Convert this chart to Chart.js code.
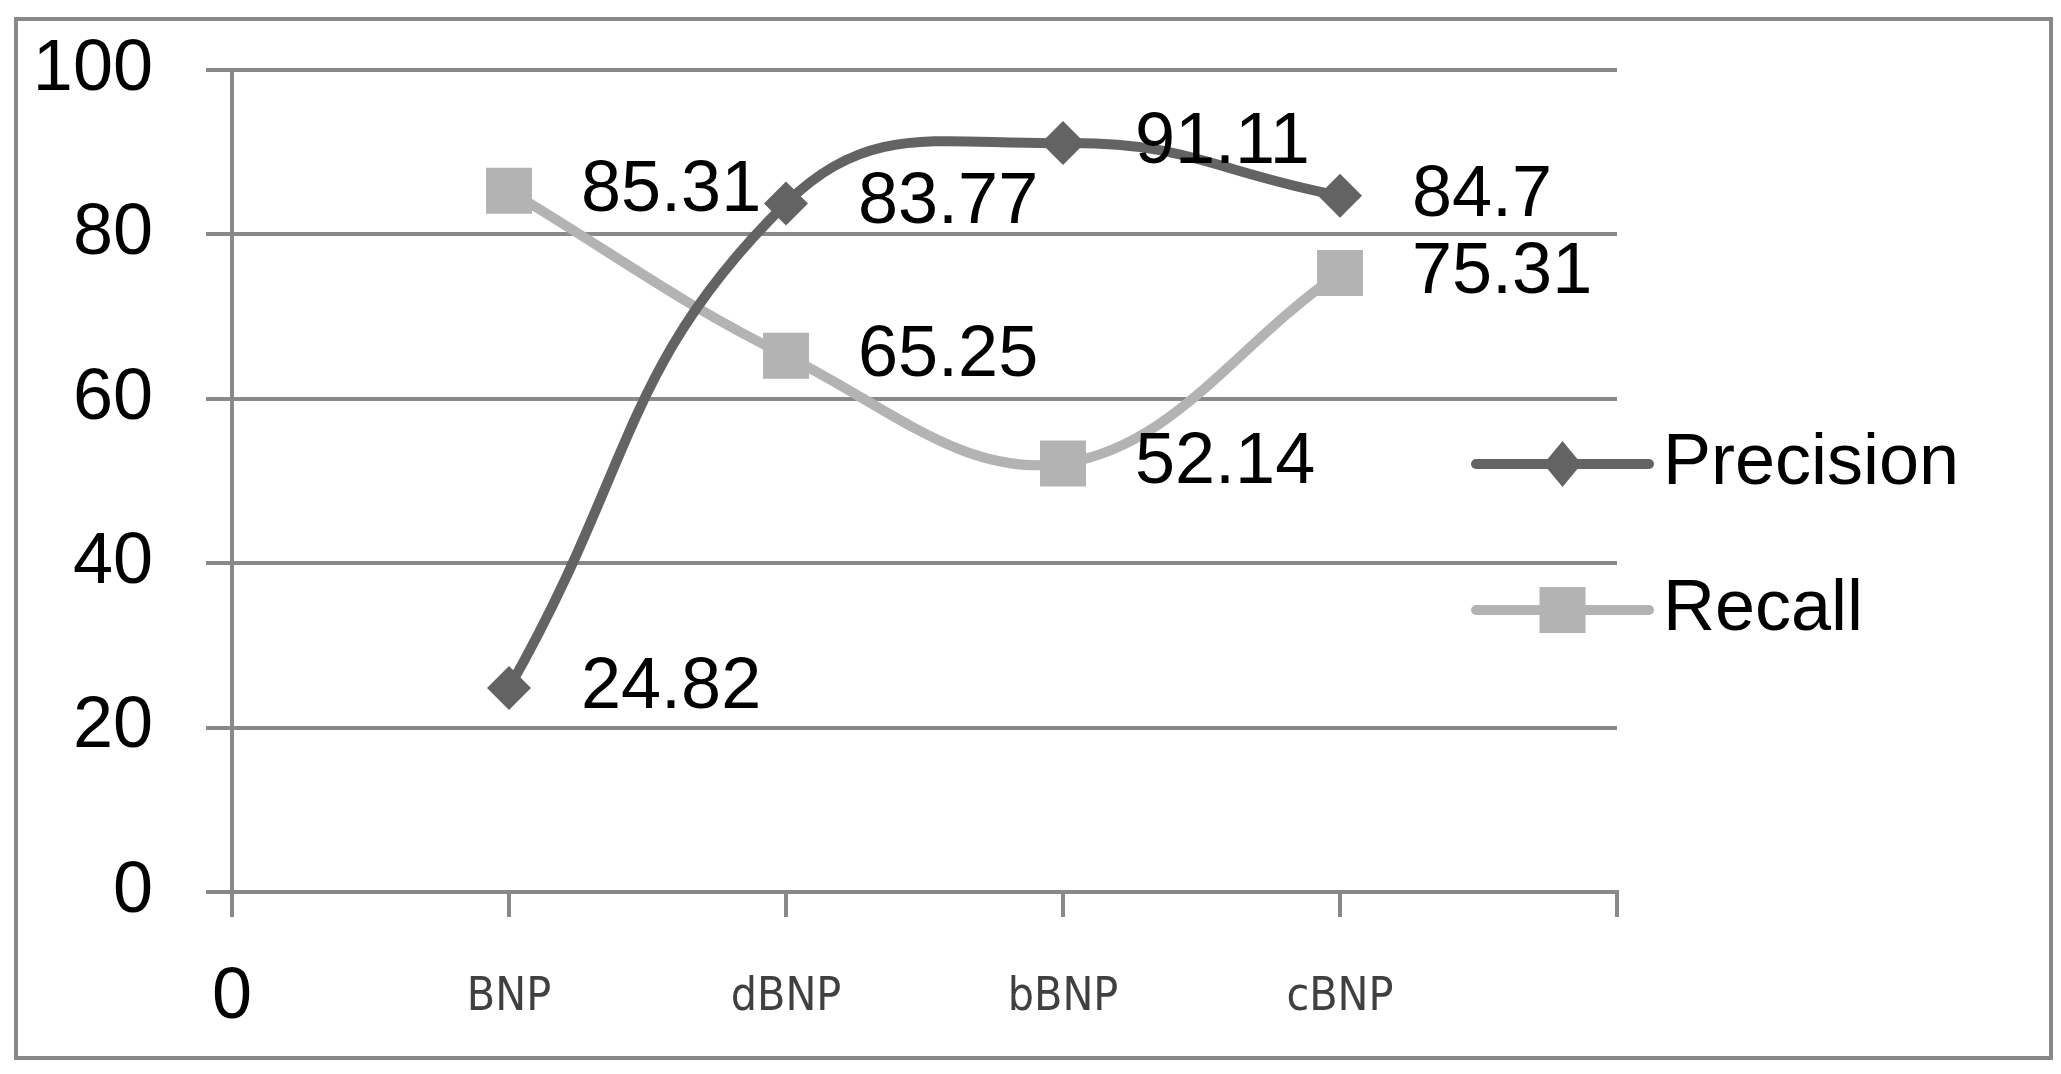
<!DOCTYPE html>
<html>
<head>
<meta charset="utf-8">
<title>Precision and Recall</title>
<script src="https://cdn.jsdelivr.net/npm/chart.js@4.4.1/dist/chart.umd.min.js"></script>
<style>
  html, body { margin: 0; padding: 0; background: #fff; }
</style>
</head>
<body>
<canvas id="chart" width="2061" height="1074"></canvas>
<script>
// Data
const categories = ['0', 'BNP', 'dBNP', 'bBNP', 'cBNP', ''];
const precision = [null, 24.82, 83.77, 91.11, 84.7, null];
const recall = [null, 85.31, 65.25, 52.14, 75.31, null];
const yTicks = [0, 20, 40, 60, 80, 100];

const FONT = "'Liberation Sans', Arial, sans-serif";
const NARROW = "'Liberation Sans Narrow', 'DejaVu Sans Condensed', sans-serif";
const GRID = '#898989';
const DARK = '#636363';
const LIGHT = '#b3b3b3';

// White page + grey frame round the whole chart
const framePlugin = {
  id: 'frame',
  beforeDraw(chart) {
    const ctx = chart.ctx;
    ctx.save();
    ctx.fillStyle = '#fff';
    ctx.fillRect(0, 0, chart.width, chart.height);
    ctx.strokeStyle = GRID;
    ctx.lineWidth = 4;
    ctx.strokeRect(16, 19, chart.width - 26, chart.height - 35);
    ctx.restore();
  }
};

// Value labels to the right of each point
const valueLabels = {
  id: 'valueLabels',
  afterDatasetsDraw(chart) {
    const ctx = chart.ctx;
    ctx.save();
    ctx.font = '72px ' + FONT;
    ctx.fillStyle = '#000';
    ctx.textAlign = 'left';
    ctx.textBaseline = 'middle';
    chart.data.datasets.forEach((ds, i) => {
      chart.getDatasetMeta(i).data.forEach((pt, j) => {
        if (ds.data[j] == null) return;
        ctx.fillText(String(ds.data[j]), pt.x + 72, pt.y);
      });
    });
    ctx.restore();
  }
};

// Legend sits over the right end of the plot, as in the original
const sideLegend = {
  id: 'sideLegend',
  afterDraw(chart) {
    const ctx = chart.ctx;
    const x0 = chart.width - 585, x1 = x0 + 173, mid = (x0 + x1) / 2;
    const cy = chart.height / 2;
    ctx.save();
    chart.data.datasets.forEach((ds, i) => {
      const y = cy + (i === 0 ? -73 : 73);
      ctx.strokeStyle = ds.borderColor;
      ctx.lineWidth = 10;
      ctx.lineCap = 'round';
      ctx.beginPath();
      ctx.moveTo(x0, y);
      ctx.lineTo(x1, y);
      ctx.stroke();
      ctx.fillStyle = ds.pointBackgroundColor;
      ctx.beginPath();
      if (ds.pointStyle === 'rectRot') {
        ctx.moveTo(mid - 19, y);
        ctx.lineTo(mid, y - 23);
        ctx.lineTo(mid + 19, y);
        ctx.lineTo(mid, y + 23);
        ctx.closePath();
      } else {
        ctx.rect(mid - 23, y - 23, 46, 46);
      }
      ctx.fill();
      ctx.font = '72px ' + FONT;
      ctx.fillStyle = '#000';
      ctx.textAlign = 'left';
      ctx.textBaseline = 'middle';
      ctx.fillText(ds.label, x1 + 14, y);
    });
    ctx.restore();
  }
};

new Chart(document.getElementById('chart'), {
  type: 'line',
  data: {
    labels: categories,
    datasets: [
      {
        label: 'Precision',
        data: precision,
        borderColor: DARK,
        backgroundColor: DARK,
        borderWidth: 10,
        borderJoinStyle: 'round',
        borderCapStyle: 'round',
        pointStyle: 'rectRot',
        pointRadius: 22,
        pointBorderWidth: 0,
        pointBackgroundColor: DARK,
        tension: 0.45,
        fill: false
      },
      {
        label: 'Recall',
        data: recall,
        borderColor: LIGHT,
        backgroundColor: LIGHT,
        borderWidth: 10,
        borderJoinStyle: 'round',
        borderCapStyle: 'round',
        pointStyle: 'rect',
        pointRadius: 32.5,
        pointBorderWidth: 0,
        pointBackgroundColor: LIGHT,
        tension: 0.38,
        fill: false
      }
    ]
  },
  options: {
    responsive: false,
    animation: false,
    devicePixelRatio: 1,
    events: [],
    layout: { padding: { left: 0, top: 70, right: 444, bottom: 0 } },
    plugins: {
      legend: { display: false },
      tooltip: { enabled: false }
    },
    scales: {
      x: {
        type: 'category',
        offset: false,
        afterFit: axis => { axis.height = 182; },
        grid: { drawOnChartArea: false, drawTicks: true, tickLength: 25, color: GRID, lineWidth: 4 },
        border: { color: GRID, width: 4 },
        ticks: {
          autoSkip: false,
          maxRotation: 0,
          padding: 45,
          color: c => (c.index === 0 ? '#000' : '#404040'),
          font: c => (c.index === 0
            ? { family: FONT, size: 72, lineHeight: 1 }
            : { family: NARROW, size: 46, lineHeight: 72 / 46 })
        }
      },
      y: {
        min: 0,
        max: 100,
        afterFit: axis => {
          axis.width = 232;
          axis.paddingTop = 0;
          axis.paddingBottom = 0;
        },
        afterBuildTicks: axis => { axis.ticks = yTicks.map(v => ({ value: v })); },
        grid: { color: GRID, lineWidth: 4, drawTicks: true, tickLength: 26 },
        border: { color: GRID, width: 4 },
        ticks: {
          padding: 53,
          color: '#000',
          font: { family: FONT, size: 72 }
        }
      }
    }
  },
  plugins: [framePlugin, valueLabels, sideLegend]
});
</script>
</body>
</html>
